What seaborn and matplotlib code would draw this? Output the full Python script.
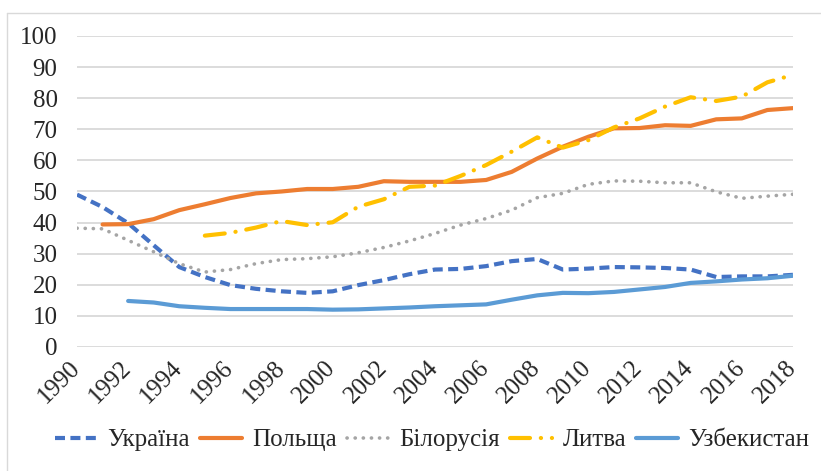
import pandas as pd
import seaborn as sns
from matplotlib import pyplot as plt
from matplotlib.lines import Line2D
import matplotlib.transforms as mtransforms

years = list(range(1990, 2019))

ukraine = [49.0, 45.0, 39.8, 32.7, 25.7, 22.5, 19.9, 18.7, 17.9, 17.4, 17.9, 19.9, 21.5, 23.4,
           24.9, 25.1, 26.0, 27.6, 28.3, 24.9, 25.2, 25.7, 25.6, 25.4, 24.9, 22.5, 22.7, 22.7, 23.2]
poland = [None, 39.4, 39.5, 41.1, 44.0, 45.9, 47.9, 49.4, 50.0, 50.8, 50.8, 51.5, 53.3, 53.1,
          53.1, 53.1, 53.7, 56.3, 60.6, 64.4, 67.6, 70.3, 70.4, 71.3, 71.1, 73.2, 73.5, 76.2, 76.8]
belarus = [38.2, 38.0, 34.3, 30.6, 26.8, 24.1, 24.9, 26.8, 28.1, 28.4, 29.0, 30.3, 32.0, 34.1,
           36.5, 39.2, 41.3, 44.0, 48.0, 49.4, 52.3, 53.4, 53.3, 52.8, 52.8, 49.9, 47.8, 48.5, 49.1]
lithuania = [None, None, None, None, None, 35.8, 36.7, 38.4, 40.5, 39.2, 40.1, 45.1, 47.5, 51.5,
             51.9, 55.0, 58.5, 62.8, 67.4, 64.1, 66.5, 70.6, 73.5, 77.3, 80.3, 79.1, 80.5, 85.1, 87.5]
uzbekistan = [None, None, 14.8, 14.3, 13.1, 12.6, 12.2, 12.2, 12.2, 12.2, 12.0, 12.1, 12.4, 12.7,
              13.1, 13.4, 13.7, 15.2, 16.6, 17.4, 17.3, 17.7, 18.5, 19.3, 20.6, 21.1, 21.7, 22.1, 22.9]

names = ['Україна', 'Польща', 'Білорусія', 'Литва', 'Узбекистан']
colors = ['#4472C4', '#ED7D31', '#A5A5A5', '#FFC000', '#5B9BD5']

df = pd.DataFrame({'year': years, 'Україна': ukraine, 'Польща': poland,
                   'Білорусія': belarus, 'Литва': lithuania, 'Узбекистан': uzbekistan})

sns.set_style('white')
plt.rcParams['font.family'] = ['Liberation Serif', 'DejaVu Serif']
plt.rcParams['text.color'] = '#262626'
FONT = dict(family='Liberation Serif', size=18)

fig = plt.figure(figsize=(8.21, 4.71), dpi=100)
ax = fig.add_axes([0.0938, 0.2633, 0.872, 0.6603])

styles = {
    'Україна': dict(lw=3, dashes=(2.4, 1.3), dash_capstyle='butt'),
    'Польща': dict(lw=3),
    'Білорусія': dict(lw=2.6, dashes=(0.05, 2.2), dash_capstyle='round'),
    'Литва': dict(lw=3, dashes=(4.8, 2.6, 0.05, 2.6), dash_capstyle='round'),
    'Узбекистан': dict(lw=3),
}

for name, col in zip(names, colors):
    sub = df[['year', name]].dropna()
    sns.lineplot(data=sub, x='year', y=name, ax=ax, color=col, label=name, **styles[name])

ax.set_xlim(1990, 2018)
ax.set_ylim(0, 100)
ax.set_yticks(range(0, 101, 10))
ax.set_xticks(range(1990, 2019, 2))
ax.grid(axis='y', color='#d9d9d9', lw=1.3)
ax.grid(axis='x', visible=False)
for s in ax.spines.values():
    s.set_visible(False)
ax.tick_params(length=0, labelcolor='#262626')
ax.tick_params(axis='y', pad=14)
ax.set_xlabel('')
ax.set_ylabel('')
for lbl in ax.get_yticklabels():
    lbl.set_fontfamily('Liberation Serif')
    lbl.set_fontsize(18)
offset = mtransforms.ScaledTranslation(-0.08, -0.05, fig.dpi_scale_trans)
for lbl in ax.get_xticklabels():
    lbl.set_fontfamily('Liberation Serif')
    lbl.set_fontsize(18)
    lbl.set_rotation(45)
    lbl.set_ha('right')
    lbl.set_rotation_mode('anchor')
    lbl.set_transform(lbl.get_transform() + offset)

ax.get_legend().remove()
handles, labels = ax.get_legend_handles_labels()
fig.legend(handles, labels, loc='center', bbox_to_anchor=(432 / 821, 1 - 440 / 471), ncol=5,
           frameon=False, prop=FONT, handlelength=1.7, handletextpad=0.4, columnspacing=0.4)

# light chart border (left and top edges)
fig.add_artist(Line2D([7 / 821, 7 / 821], [0, 1 - 13 / 471], transform=fig.transFigure, color='#d9d9d9', lw=1))
fig.add_artist(Line2D([7 / 821, 1], [1 - 13 / 471, 1 - 13 / 471], transform=fig.transFigure, color='#d9d9d9', lw=1))

fig.savefig('out.png', dpi=100)
